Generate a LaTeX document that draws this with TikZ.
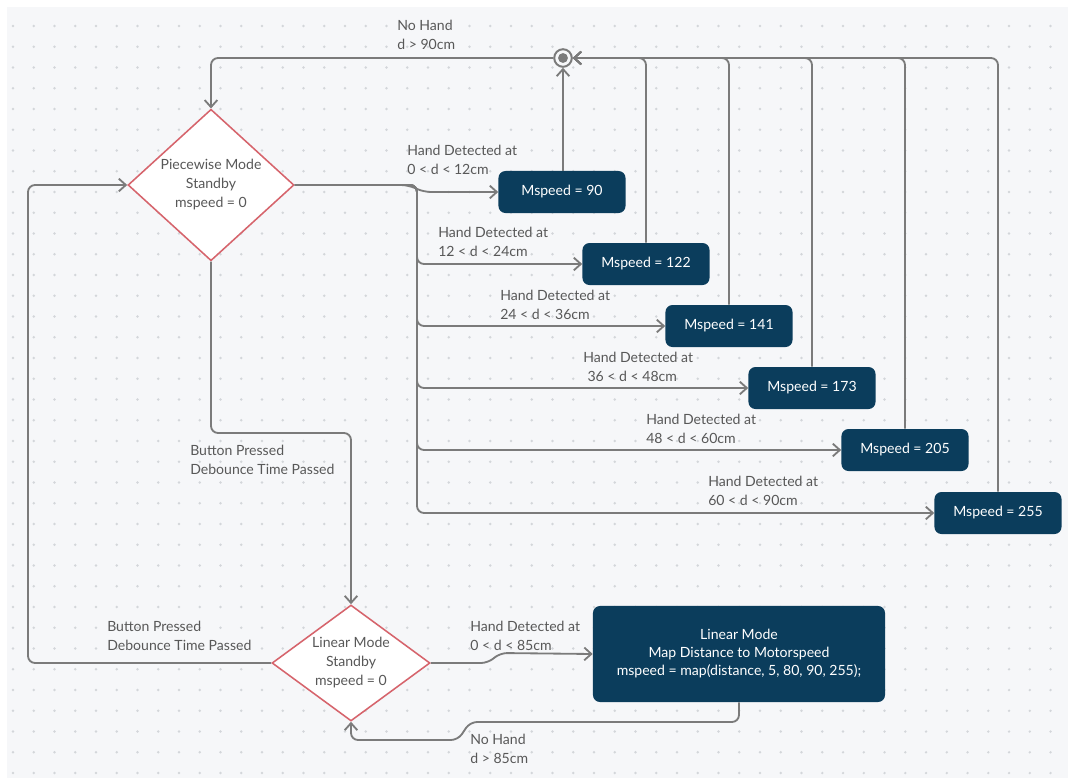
\documentclass[tikz,border=0pt]{standalone}
\usepackage{fontspec}
\setmainfont{Lato}
\usetikzlibrary{arrows.meta,positioning,calc,shapes.geometric}

\definecolor{boxBlue}{HTML}{0B3D5C}
\definecolor{lineGray}{HTML}{7B7B7B}
\definecolor{textGray}{HTML}{585858}
\definecolor{modeRed}{HTML}{D6646C}
\definecolor{bgGray}{HTML}{F6F7F9}
\definecolor{dotGray}{HTML}{D3D6DA}

\begin{document}
\begin{tikzpicture}[x=0.025cm,y=-0.025cm,
    mode/.style={diamond,draw=modeRed,line width=1.1pt,fill=white,inner sep=0pt,align=center,text=textGray,font=\fontsize{10}{13.5}\selectfont},
    speed/.style={rectangle,rounded corners=5pt,fill=boxBlue,text=white,minimum width=3.175cm,minimum height=1.05cm,font=\fontsize{10}{12}\selectfont},
    cond/.style={anchor=west,inner sep=0pt,align=left,text=textGray,font=\fontsize{10}{13.5}\selectfont},
    stop/.style={circle,draw=lineGray,line width=1.4pt,fill=bgGray,inner sep=0pt,minimum size=0.44cm,
        path picture={\fill[lineGray] (path picture bounding box.center) circle (3.5pt);}},
    flow/.style={draw=lineGray,line width=1.3pt,rounded corners=5pt,-{Straight Barb[length=5pt,width=9pt]}}]

        \useasboundingbox (0,0) rectangle (1068,778);

        % background with dot grid
        \fill[bgGray] (7,7) rectangle (1068,778);
        \foreach \i in {0,...,50}
            \foreach \j in {0,...,36}
                \fill[dotGray] (13+20.75*\i,26+20.75*\j) circle (0.9pt);

        % Standby modes
        \node[mode,minimum width=4.15cm,minimum height=3.75cm] (pwMode) at (211,185) {Piecewise Mode\\Standby\\mspeed = 0};
        \node[mode,aspect=1.4,minimum width=3.95cm,minimum height=2.9cm] (linMode) at (351,663) {Linear Mode\\Standby\\mspeed = 0};

        % end point of the speed states
        \node[stop] (stopNode) at (563,58) {};

        % Speed states
        \node[speed] (speed1) at (562,192) {Mspeed = 90};
        \node[speed] (speed2) at (646,264) {Mspeed = 122};
        \node[speed] (speed3) at (729,326) {Mspeed = 141};
        \node[speed] (speed4) at (812,388) {Mspeed = 173};
        \node[speed] (speed5) at (905,450) {Mspeed = 205};
        \node[speed] (speed6) at (998,513) {Mspeed = 255};
        \node[speed,minimum width=7.3cm,minimum height=2.4cm,align=center,font=\fontsize{10}{12.8}\selectfont] (linBox) at (739,654) {Linear Mode\\Map Distance to Motorspeed\\mspeed = map(distance, 5, 80, 90, 255);};

        % Conditions
        \node[cond] (noHand1) at (397,35) {No Hand\\d > 90cm};
        \node[cond] (hand1) at (407,160) {Hand Detected at\\0 < d < 12cm};
        \node[cond] (hand2) at (438,242) {Hand Detected at\\12 < d < 24cm};
        \node[cond] (hand3) at (500,305) {Hand Detected at\\24 < d < 36cm};
        \node[cond] (hand4) at (583,367) {Hand Detected at\\\hspace{3pt}36 < d < 48cm};
        \node[cond] (hand5) at (646,429) {Hand Detected at\\48 < d < 60cm};
        \node[cond] (hand6) at (708,491) {Hand Detected at\\60 < d < 90cm};
        \node[cond] (press1) at (190,460) {Button Pressed\\Debounce Time Passed};
        \node[cond] (press2) at (107,636) {Button Pressed\\Debounce Time Passed};
        \node[cond] (hand7) at (470,636) {Hand Detected at\\0 < d < 85cm};
        \node[cond] (noHand2) at (470,749) {No Hand\\d > 85cm};

        % arcs from piecewise mode to the speed states
        \draw[flow] (pwMode.east) -- (408,185) -- (424,192) -- (speed1);
        \foreach \n in {2,...,6}
            \draw[flow] (pwMode.east) -- (417,185) |- (speed\n.west);

        % arcs from the speed states back to piecewise mode
        \draw[flow] (stopNode |- speed1.north) -- (stopNode);
        \foreach \n in {2,...,6}
            \draw[flow] (speed\n.north) |- (stopNode);
        \draw[flow] (stopNode) -| (pwMode);

        % arcs between the two modes
        \draw[flow] (pwMode.south) -- (211,433) -| (linMode.north);
        \draw[flow] (linMode.west) -- (28,663) |- (pwMode.west);

        % arcs to/from linear mode box
        \draw[flow] (linMode.east) -- (488,663) -- (500,653) -- (linBox.west);
        \draw[flow] (linBox.south) |- (470,722) -- (458,740) -| (linMode.south);

    \end{tikzpicture}
\end{document}
